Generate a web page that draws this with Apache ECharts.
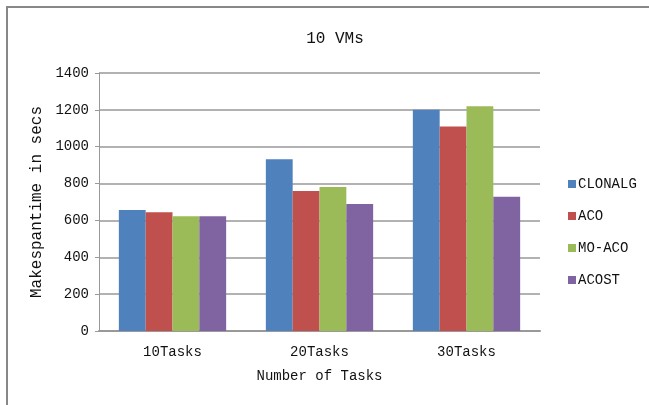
<!DOCTYPE html>
<html>
<head>
    <meta charset="utf-8">
    <title>10 VMs</title>
    <script src="https://cdn.jsdelivr.net/npm/echarts@6/dist/echarts.min.js"></script>
</head>
<body style="margin:0">
<div id="main" style="width: 649px;height:405px;"></div>
<script type="text/javascript">
    // data
    var categories = ['10Tasks', '20Tasks', '30Tasks'];
    var clonalg = [656, 932, 1200];
    var aco = [645, 760, 1110];
    var moAco = [622, 782, 1220];
    var acost = [622, 689, 728];
    var yTicks = [0, 200, 400, 600, 800, 1000, 1200, 1400];

    var font = 'Liberation Mono';
    var myChart = echarts.init(document.getElementById('main'));

    function bar(name, data, color) {
        return {
            name: name,
            type: 'bar',
            data: data,
            barGap: 0,
            barCategoryGap: '27%',
            itemStyle: {color: color},
            emphasis: {disabled: true}
        };
    }

    myChart.setOption({
        animation: false,
        backgroundColor: '#fff',
        textStyle: {fontFamily: font, color: '#111'},
        graphic: [{
            type: 'rect',
            shape: {x: 7, y: 7, width: 700, height: 500},
            style: {fill: null, stroke: '#888', lineWidth: 2}
        }],
        title: {
            text: '10 VMs',
            left: 330,
            textAlign: 'center',
            top: 26,
            textStyle: {fontFamily: font, fontSize: 16, fontWeight: 'normal', color: '#111'}
        },
        legend: {
            orient: 'vertical',
            left: 563,
            top: 172,
            itemWidth: 8,
            itemHeight: 8,
            itemGap: 18,
            icon: 'rect',
            textStyle: {fontFamily: font, fontSize: 14, color: '#111', padding: [0, 0, 0, -3]},
            data: ['CLONALG', 'ACO', 'MO-ACO', 'ACOST']
        },
        grid: {left: 99, right: 109, top: 73, bottom: 74},
        xAxis: {
            type: 'category',
            data: categories,
            name: 'Number of Tasks',
            nameLocation: 'middle',
            nameGap: 38,
            nameTextStyle: {fontFamily: font, fontSize: 14, color: '#111'},
            axisLine: {lineStyle: {color: '#999', width: 2}},
            axisTick: {show: false},
            axisLabel: {fontFamily: font, fontSize: 14, color: '#111', margin: 14}
        },
        yAxis: {
            type: 'value',
            min: yTicks[0],
            max: yTicks[yTicks.length - 1],
            interval: yTicks[1] - yTicks[0],
            name: 'Makespantime in secs',
            nameLocation: 'middle',
            nameGap: 53,
            nameTextStyle: {fontFamily: font, fontSize: 16, color: '#111'},
            axisLine: {show: true, lineStyle: {color: '#999', width: 1}},
            axisTick: {show: true, length: 4, lineStyle: {color: '#999'}},
            axisLabel: {
                fontFamily: font, fontSize: 14, color: '#111', margin: 10,
                formatter: function (v) { return String(v); }
            },
            splitLine: {lineStyle: {color: '#999', width: 1.5}}
        },
        series: [
            bar('CLONALG', clonalg, '#4F81BD'),
            bar('ACO', aco, '#C0504D'),
            bar('MO-ACO', moAco, '#9BBB59'),
            bar('ACOST', acost, '#8064A2')
        ]
    });
</script>
</body>
</html>
